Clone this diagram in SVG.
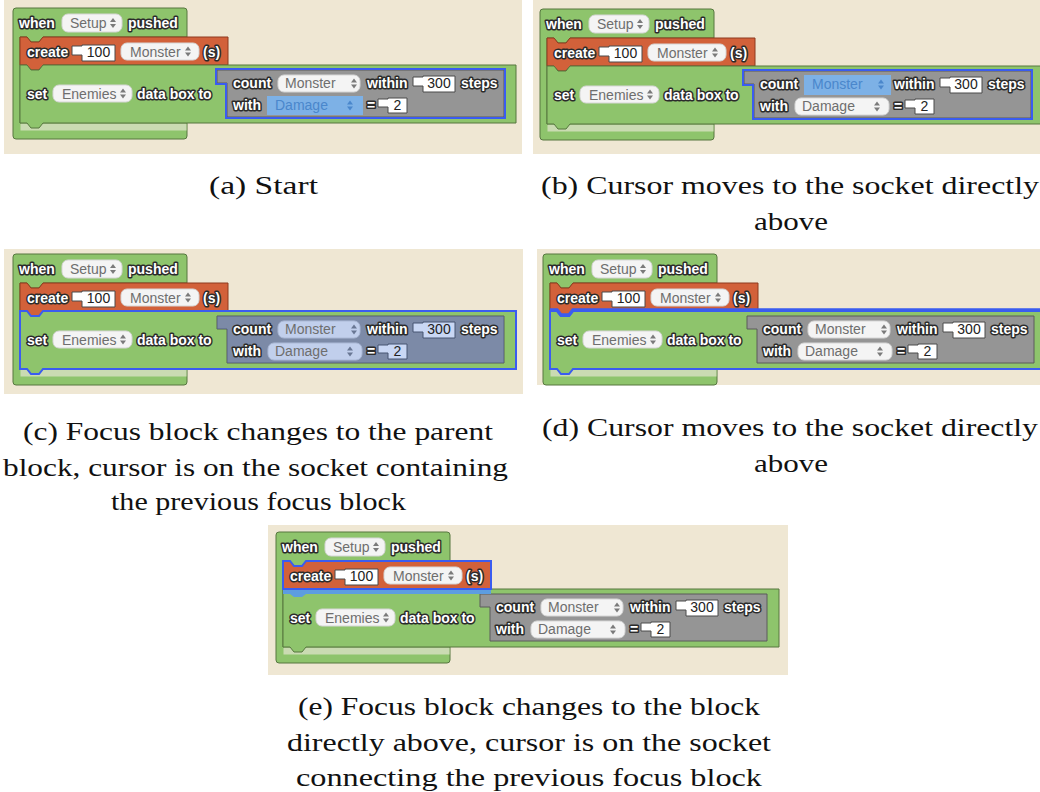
<svg xmlns="http://www.w3.org/2000/svg" xmlns:xlink="http://www.w3.org/1999/xlink" width="1040" height="792" viewBox="0 0 1040 792">
<style>
.bg{fill:#efe7d3}
.gr{fill:#8ec46c;stroke:#56773f;stroke-width:1}
.or{fill:#d2613a;stroke:#8e3b1f;stroke-width:1}
.gy{fill:#959595;stroke:#5a5a5a;stroke-width:1}
.dd{fill:#f4f4f4;stroke:#d6d6d6;stroke-width:1}
.fld{fill:#ffffff;stroke:#4a4a4a;stroke-width:1}
.arr{fill:#7a7a7a}
.arrb{fill:#4a87cc}
.lt{fill:#cadbb2}
.bt{font-family:"Liberation Sans",Arial,sans-serif;font-weight:bold;font-size:14px;fill:#ffffff;stroke:#2b2b2b;stroke-width:3px;stroke-linejoin:round;paint-order:stroke}
.dt{font-family:"Liberation Sans",Arial,sans-serif;font-size:14px;fill:#6e6e6e}
.ft{font-family:"Liberation Sans",Arial,sans-serif;font-size:14px;fill:#222222;text-anchor:middle}
.hl{fill:#7db1e6}
.hlt{fill:#4a87cc}
.ol{fill:none;stroke:#3a5cf0;stroke-width:2}
.cap{font-family:"Liberation Serif","Times New Roman",serif;font-size:26px;fill:#111111;text-anchor:middle}
</style>
<defs>
<g id="arr"><path d="M-3,-1 L3,-1 L0,-5 Z"/><path d="M-3,1 L3,1 L0,5 Z"/></g>
<g id="base">
<path class="gr" d="M0,3 Q0,0 3,0 H171 Q174,0 174,3 V29 H30 L26,34 H18 L14,29 H7 V115 H174 V128 Q174,131 171,131 H3 Q0,131 0,128 Z"/>
<rect class="lt" x="7.5" y="115.5" width="166" height="7"/>
<path class="or" d="M7,29 H14 L18,34 H26 L30,29 H215 V57 H30 L26,62 H18 L14,57 H7 Z"/>
<path class="gr" d="M7,57 H14 L18,62 H26 L30,57 H503 V115 H30 L26,120 H18 L14,115 H7 Z"/>
<path class="gy" d="M204,62 H491 V109 H214 V75 H204 Z"/>
<rect class="dd" x="49" y="6" width="60" height="18" rx="6"/>
<rect class="dd" x="108" y="35" width="78" height="17" rx="6"/>
<rect class="dd" x="40" y="77" width="79" height="17" rx="6"/>
<rect class="dd" x="265" y="67" width="82" height="17" rx="6"/>
<rect class="dd" x="255" y="89" width="94" height="17" rx="6"/>
<use xlink:href="#arr" href="#arr" class="arr" x="100" y="15"/>
<use xlink:href="#arr" href="#arr" class="arr" x="175" y="43.5"/>
<use xlink:href="#arr" href="#arr" class="arr" x="110" y="85.5"/>
<use xlink:href="#arr" href="#arr" class="arr" x="341" y="75.5"/>
<use xlink:href="#arr" href="#arr" class="arr" x="337" y="97.5"/>
<path class="fld" d="M59,38 H69 V37 H102 V53 H69 V47 H59 Z"/>
<path class="fld" d="M400,69 H410 V68 H442 V84 H410 V78 H400 Z"/>
<path class="fld" d="M365,91 H375 V90 H394 V105 H375 V99 H365 Z"/>
</g>
</defs>

<g id="connectors"/>

<g id="panel-a">
<rect class="bg" x="4" y="0" width="518" height="154"/>
<g transform="translate(13,8)">
<use xlink:href="#base" href="#base"/>
<rect class="hl" x="254" y="88" width="96" height="19"/>
<use xlink:href="#arr" href="#arr" class="arrb" x="337" y="97.5"/>
<text class="bt" x="6" y="20">when</text>
<text class="dt" x="57" y="20">Setup</text>
<text class="bt" x="115" y="20">pushed</text>
<text class="bt" x="14" y="49">create</text>
<text class="ft" x="85.5" y="49">100</text>
<text class="dt" x="117" y="49">Monster</text>
<text class="bt" x="190" y="49">(s)</text>
<text class="bt" x="14" y="91">set</text>
<text class="dt" x="49" y="91">Enemies</text>
<text class="bt" x="124" y="91">data box to</text>
<text class="bt" x="220" y="80">count</text>
<text class="dt" x="272" y="80">Monster</text>
<text class="bt" x="354" y="80">within</text>
<text class="ft" x="426" y="80">300</text>
<text class="bt" x="448" y="80">steps</text>
<text class="bt" x="220" y="102">with</text>
<text class="dt hlt" x="262" y="102">Damage</text>
<text class="bt" x="354" y="102">=</text>
<text class="ft" x="384.5" y="102">2</text>
<path class="ol" d="M203,61 H492 V110 H213 V76 H203 Z"/>
</g>
<text class="cap" x="263.5" y="194" textLength="109" lengthAdjust="spacingAndGlyphs">(a) Start</text>
</g>

<g id="panel-b">
<rect class="bg" x="533" y="0" width="507" height="154"/>
<g transform="translate(540,9)">
<use xlink:href="#base" href="#base"/>
<rect class="hl" x="264" y="66" width="87" height="20"/>
<use xlink:href="#arr" href="#arr" class="arrb" x="341" y="75.5"/>
<text class="bt" x="6" y="20">when</text>
<text class="dt" x="57" y="20">Setup</text>
<text class="bt" x="115" y="20">pushed</text>
<text class="bt" x="14" y="49">create</text>
<text class="ft" x="85.5" y="49">100</text>
<text class="dt" x="117" y="49">Monster</text>
<text class="bt" x="190" y="49">(s)</text>
<text class="bt" x="14" y="91">set</text>
<text class="dt" x="49" y="91">Enemies</text>
<text class="bt" x="124" y="91">data box to</text>
<text class="bt" x="220" y="80">count</text>
<text class="dt hlt" x="272" y="80">Monster</text>
<text class="bt" x="354" y="80">within</text>
<text class="ft" x="426" y="80">300</text>
<text class="bt" x="448" y="80">steps</text>
<text class="bt" x="220" y="102">with</text>
<text class="dt" x="262" y="102">Damage</text>
<text class="bt" x="354" y="102">=</text>
<text class="ft" x="384.5" y="102">2</text>
<path class="ol" d="M203,61 H492 V110 H213 V76 H203 Z"/>
</g>
<text class="cap" x="790" y="194" textLength="498" lengthAdjust="spacingAndGlyphs">(b) Cursor moves to the socket directly</text>
<text class="cap" x="791" y="230" textLength="74" lengthAdjust="spacingAndGlyphs">above</text>
</g>

<g id="panel-c">
<rect class="bg" x="4" y="249" width="519" height="145"/>
<g transform="translate(13,254)">
<use xlink:href="#base" href="#base"/>
<path d="M204,62 H491 V109 H214 V75 H204 Z" fill="#3d6fd6" fill-opacity="0.28"/>
<text class="bt" x="6" y="20">when</text>
<text class="dt" x="57" y="20">Setup</text>
<text class="bt" x="115" y="20">pushed</text>
<text class="bt" x="14" y="49">create</text>
<text class="ft" x="85.5" y="49">100</text>
<text class="dt" x="117" y="49">Monster</text>
<text class="bt" x="190" y="49">(s)</text>
<text class="bt" x="14" y="91">set</text>
<text class="dt" x="49" y="91">Enemies</text>
<text class="bt" x="124" y="91">data box to</text>
<text class="bt" x="220" y="80">count</text>
<text class="dt" x="272" y="80">Monster</text>
<text class="bt" x="354" y="80">within</text>
<text class="ft" x="426" y="80">300</text>
<text class="bt" x="448" y="80">steps</text>
<text class="bt" x="220" y="102">with</text>
<text class="dt" x="262" y="102">Damage</text>
<text class="bt" x="354" y="102">=</text>
<text class="ft" x="384.5" y="102">2</text>
<path class="ol" d="M7,57 H14 L18,62 H26 L30,57 H503 V115 H30 L26,120 H18 L14,115 H7 Z"/>
</g>
<text class="cap" x="258" y="440" textLength="470" lengthAdjust="spacingAndGlyphs">(c) Focus block changes to the parent</text>
<text class="cap" x="255.5" y="476" textLength="505" lengthAdjust="spacingAndGlyphs">block, cursor is on the socket containing</text>
<text class="cap" x="258.5" y="510" textLength="295" lengthAdjust="spacingAndGlyphs">the previous focus block</text>
</g>

<g id="panel-d">
<rect class="bg" x="537" y="249" width="503" height="136"/>
<g transform="translate(543,254)">
<use xlink:href="#base" href="#base"/>
<text class="bt" x="6" y="20">when</text>
<text class="dt" x="57" y="20">Setup</text>
<text class="bt" x="115" y="20">pushed</text>
<text class="bt" x="14" y="49">create</text>
<text class="ft" x="85.5" y="49">100</text>
<text class="dt" x="117" y="49">Monster</text>
<text class="bt" x="190" y="49">(s)</text>
<text class="bt" x="14" y="91">set</text>
<text class="dt" x="49" y="91">Enemies</text>
<text class="bt" x="124" y="91">data box to</text>
<text class="bt" x="220" y="80">count</text>
<text class="dt" x="272" y="80">Monster</text>
<text class="bt" x="354" y="80">within</text>
<text class="ft" x="426" y="80">300</text>
<text class="bt" x="448" y="80">steps</text>
<text class="bt" x="220" y="102">with</text>
<text class="dt" x="262" y="102">Damage</text>
<text class="bt" x="354" y="102">=</text>
<text class="ft" x="384.5" y="102">2</text>
<path class="ol" d="M7,57 H14 L18,62 H26 L30,57 H503 V115 H30 L26,120 H18 L14,115 H7 Z"/>
<path d="M7,56 H14 L18,61 H26 L30,56 H510" fill="none" stroke="#3a5cf0" stroke-width="3.5"/>
</g>
<text class="cap" x="790" y="436" textLength="496" lengthAdjust="spacingAndGlyphs">(d) Cursor moves to the socket directly</text>
<text class="cap" x="791" y="472" textLength="74" lengthAdjust="spacingAndGlyphs">above</text>
</g>

<g id="panel-e">
<rect class="bg" x="268" y="525" width="520" height="150"/>
<g transform="translate(276,532)">
<use xlink:href="#base" href="#base"/>
<path d="M7,57 H215 V62 H30 L26,65 H18 L14,62 H7 Z" fill="#5d9de0"/>
<text class="bt" x="6" y="20">when</text>
<text class="dt" x="57" y="20">Setup</text>
<text class="bt" x="115" y="20">pushed</text>
<text class="bt" x="14" y="49">create</text>
<text class="ft" x="85.5" y="49">100</text>
<text class="dt" x="117" y="49">Monster</text>
<text class="bt" x="190" y="49">(s)</text>
<text class="bt" x="14" y="91">set</text>
<text class="dt" x="49" y="91">Enemies</text>
<text class="bt" x="124" y="91">data box to</text>
<text class="bt" x="220" y="80">count</text>
<text class="dt" x="272" y="80">Monster</text>
<text class="bt" x="354" y="80">within</text>
<text class="ft" x="426" y="80">300</text>
<text class="bt" x="448" y="80">steps</text>
<text class="bt" x="220" y="102">with</text>
<text class="dt" x="262" y="102">Damage</text>
<text class="bt" x="354" y="102">=</text>
<text class="ft" x="384.5" y="102">2</text>
<path class="ol" d="M7,29 H14 L18,34 H26 L30,29 H215 V57 H7 Z"/>
</g>
<text class="cap" x="529" y="715" textLength="462" lengthAdjust="spacingAndGlyphs">(e) Focus block changes to the block</text>
<text class="cap" x="529" y="751" textLength="484" lengthAdjust="spacingAndGlyphs">directly above, cursor is on the socket</text>
<text class="cap" x="529" y="786" textLength="466" lengthAdjust="spacingAndGlyphs">connecting the previous focus block</text>
</g>
</svg>
